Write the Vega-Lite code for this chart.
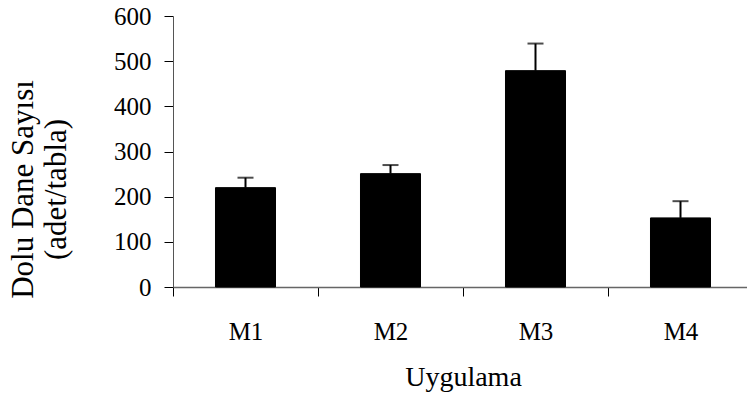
{
  "$schema": "https://vega.github.io/schema/vega-lite/v6.json",
  "autosize": {"type": "none"},
  "padding": {"left": 173, "top": 16, "right": 0, "bottom": 112},
  "width": 574,
  "height": 271,
  "background": "white",
  "config": {
    "axis": {
      "labelFont": "Liberation Serif", "labelFontSize": 25, "labelColor": "#000",
      "titleFont": "Liberation Serif", "titleFontSize": 28, "titleFontWeight": "normal", "titleColor": "#000",
      "tickColor": "#000", "tickSize": 9, "grid": false
    },
    "view": {"stroke": null}
  },
  "data": {"values": [
    {"Uygulama": "M1", "value": 220, "hi": 242},
    {"Uygulama": "M2", "value": 251, "hi": 270},
    {"Uygulama": "M3", "value": 479, "hi": 539},
    {"Uygulama": "M4", "value": 153, "hi": 190}
  ]},
  "encoding": {
    "x": {
      "field": "Uygulama", "type": "nominal", "sort": null,
      "scale": {"range": [0, 580], "paddingInner": 0, "paddingOuter": 0},
      "axis": {
        "title": "Uygulama", "labelAngle": 0, "tickBand": "extent",
        "domainColor": "#666", "domainWidth": 1.5,
        "labelPadding": 23, "titlePadding": 19, "titleX": 290
      }
    }
  },
  "layer": [
    {
      "mark": {"type": "bar", "color": "#000", "stroke": "#000", "strokeWidth": 1, "width": {"band": 0.414}},
      "encoding": {
        "y": {
          "field": "value", "type": "quantitative",
          "scale": {"domain": [0, 600], "nice": false},
          "axis": {
            "title": ["Dolu Dane Sayısı", "(adet/tabla)"],
            "values": [0, 100, 200, 300, 400, 500, 600],
            "domainColor": "#555", "labelPadding": 13,
            "titleFontSize": 31,
            "titleLineHeight": 33, "titleAngle": -90, "titleAlign": "center", "titleBaseline": "middle",
            "titleX": -150, "titleY": 173
          }
        }
      }
    },
    {
      "mark": {"type": "rule", "color": "#000", "strokeWidth": 2},
      "encoding": {
        "y": {"field": "value", "type": "quantitative"},
        "y2": {"field": "hi"}
      }
    },
    {
      "mark": {"type": "tick", "color": "#000", "size": 16, "thickness": 2, "orient": "horizontal"},
      "encoding": {
        "y": {"field": "hi", "type": "quantitative"}
      }
    }
  ]
}
